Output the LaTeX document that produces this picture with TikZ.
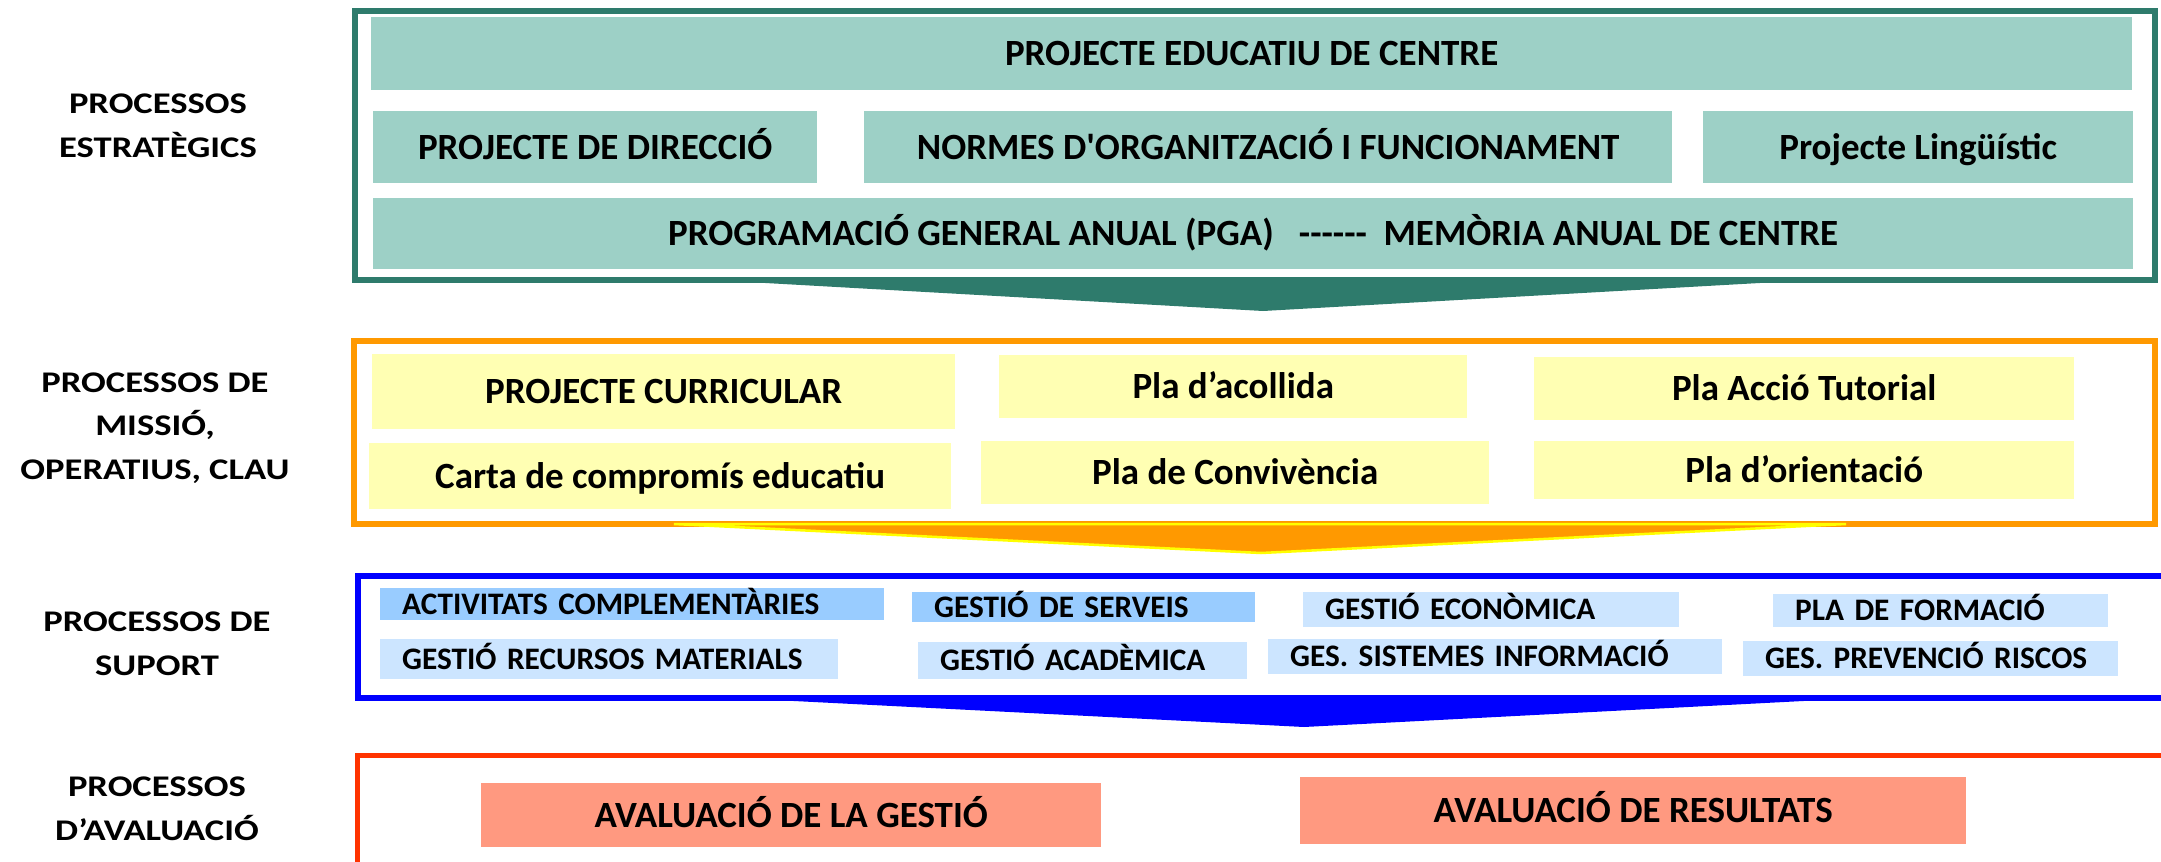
\documentclass[tikz,border=0pt]{standalone}
\usepackage{fontspec}
\setmainfont{Carlito}
\newfontfamily\etiqfont[FakeStretch=1.22]{Carlito}
\usepackage{xcolor}
\usetikzlibrary{positioning}

\definecolor{verdfosc}{HTML}{2E7B6C}
\definecolor{verdclar}{HTML}{9DD0C6}
\definecolor{taronja}{HTML}{FF9900}
\definecolor{grocclar}{HTML}{FFFFB3}
\definecolor{groc}{HTML}{FFFF00}
\definecolor{blaufort}{HTML}{0000FF}
\definecolor{blaumig}{HTML}{99CCFF}
\definecolor{blauclar}{HTML}{CCE5FF}
\definecolor{vermell}{HTML}{FF3300}
\definecolor{salmo}{HTML}{FF9980}

\begin{document}
\begin{tikzpicture}[
    x=1pt, y=-1pt,
    etiqueta/.style={align=center, font=\etiqfont\bfseries\fontsize{30}{43.5}\selectfont},
    caixa/.style={rectangle, anchor=north west, inner sep=0pt, align=center, text height=24pt, text depth=0pt, font=\bfseries\fontsize{37}{40}\selectfont},
    estrateg/.style={caixa, fill=verdclar},
    missio/.style={caixa, fill=grocclar},
    suport/.style={caixa, inner xsep=22pt, align=left, text height=20pt, font=\bfseries\fontsize{31.3}{34}\selectfont},
    avalua/.style={caixa, fill=salmo},
    marc/.style={line width=6pt}
]
\useasboundingbox (0,0) rectangle (2161,862);
\clip (0,0) rectangle (2161,862);

% etiquetes
\node[etiqueta] (etq1) at (158,126) {PROCESSOS\\ESTRATÈGICS};
\node[etiqueta] (etq2) at (155,428) {PROCESSOS DE\\MISSIÓ,\\OPERATIUS, CLAU};
\node[etiqueta] (etq3) at (157,644) {PROCESSOS DE\\SUPORT};
\node[etiqueta] (etq4) at (157,809) {PROCESSOS\\D’AVALUACIÓ};

% marcs i fletxes
\draw[marc, verdfosc] (355,11) rectangle (2155,280);
\fill[verdfosc] (712,280) -- (1813,280) -- (1263,311) -- cycle;
\draw[marc, taronja] (353.5,340.5) rectangle (2155,524);
\filldraw[fill=taronja, draw=groc, line width=2.5pt] (674,524) -- (1846,524) -- (1261,553) -- cycle;
\draw[marc, blaufort] (357.5,576) rectangle (2180,698);
\fill[blaufort] (735,698) -- (1861,698) -- (1304,727) -- cycle;
\draw[line width=5pt, vermell] (357,755) rectangle (2180,900);

% processos estrategics
\node[estrateg, minimum width=1761pt, minimum height=73pt] (pec) at (371,17) {PROJECTE EDUCATIU DE CENTRE};
\node[estrateg, minimum width=444pt, minimum height=72pt] (direccio) at (373,111) {PROJECTE DE DIRECCIÓ};
\node[estrateg, minimum width=808pt, minimum height=72pt] (nofc) at (864,111) {NORMES D\textquotesingle{}ORGANITZACIÓ I FUNCIONAMENT};
\node[estrateg, minimum width=430pt, minimum height=72pt] (ling) at (1703,111) {Projecte Lingüístic};
\node[estrateg, minimum width=1760pt, minimum height=71pt] (pga) at (373,198) {PROGRAMACIÓ GENERAL ANUAL (PGA)\ \ \ -{}-{}-{}-{}-{}-\ \ MEMÒRIA ANUAL DE CENTRE};

% processos de missio
\node[missio, minimum width=583pt, minimum height=75pt] (curricular) at (372,354) {PROJECTE CURRICULAR};
\node[missio, minimum width=468pt, minimum height=63pt] (acollida) at (999,355) {Pla d’acollida};
\node[missio, minimum width=540pt, minimum height=63pt] (tutorial) at (1534,357) {Pla Acció Tutorial};
\node[missio, minimum width=582pt, minimum height=66pt] (carta) at (369,443) {Carta de compromís educatiu};
\node[missio, minimum width=508pt, minimum height=63pt] (convivencia) at (981,441) {Pla de Convivència};
\node[missio, minimum width=540pt, minimum height=58pt] (orientacio) at (1534,441) {Pla d’orientació};

% processos de suport
\node[suport, fill=blaumig, text width=460pt, minimum height=32pt] (activitats) at (380,588) {ACTIVITATS COMPLEMENTÀRIES};
\node[suport, fill=blaumig, text width=299pt, minimum height=30pt] (serveis) at (912,592) {GESTIÓ DE SERVEIS};
\node[suport, fill=blauclar, text width=332pt, minimum height=35pt] (economica) at (1303,592) {GESTIÓ ECONÒMICA};
\node[suport, fill=blauclar, text width=291pt, minimum height=33pt] (formacio) at (1773,594) {PLA DE FORMACIÓ};
\node[suport, fill=blauclar, text width=414pt, minimum height=40pt] (recursos) at (380,639) {GESTIÓ RECURSOS MATERIALS};
\node[suport, fill=blauclar, text width=285pt, minimum height=37pt] (academica) at (918,642) {GESTIÓ ACADÈMICA};
\node[suport, fill=blauclar, text width=410pt, minimum height=35pt] (sistemes) at (1268,639) {GES. SISTEMES INFORMACIÓ};
\node[suport, fill=blauclar, text width=331pt, minimum height=35pt] (riscos) at (1743,641) {GES. PREVENCIÓ RISCOS};

% processos d'avaluacio
\node[avalua, minimum width=620pt, minimum height=64pt] (gestio) at (481,783) {AVALUACIÓ DE LA GESTIÓ};
\node[avalua, minimum width=666pt, minimum height=67pt] (resultats) at (1300,777) {AVALUACIÓ DE RESULTATS};

\end{tikzpicture}
\end{document}
